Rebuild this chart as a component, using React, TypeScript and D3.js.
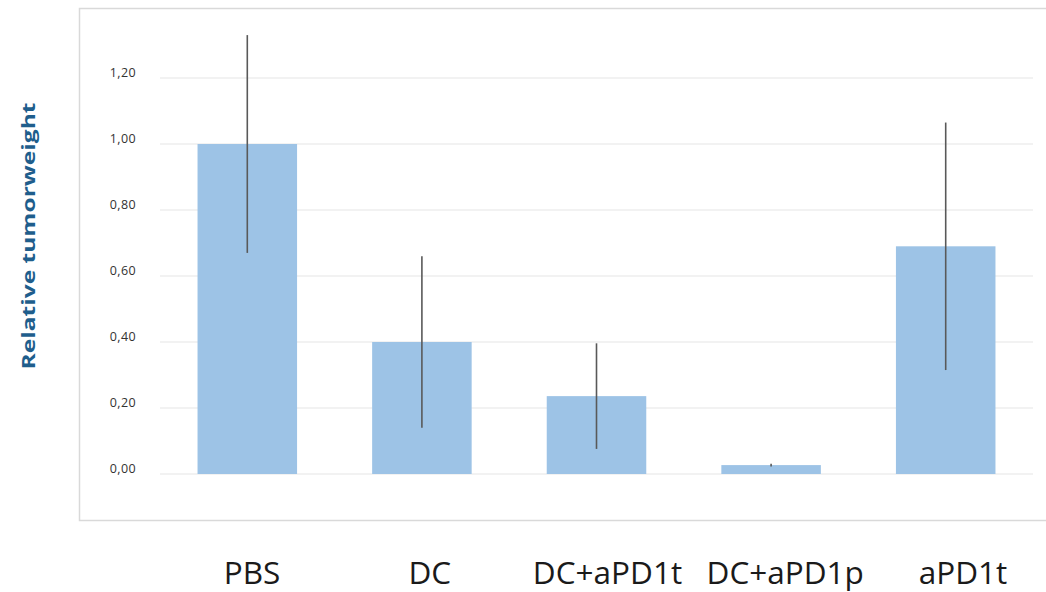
import React from "react";
import * as d3 from "d3";

const categories = ["PBS", "DC", "DC+aPD1t", "DC+aPD1p", "aPD1t"];
const values = [1.0, 0.4, 0.236, 0.027, 0.69];
const errors = [0.33, 0.26, 0.16, 0.004, 0.375];
const yTicks = [0, 0.2, 0.4, 0.6, 0.8, 1.0, 1.2];
const yTitle = "Relative tumorweight";

const W = 1046;
const H = 592;

export default function App() {
  const y = d3.scaleLinear().domain([0, 1]).range([474, 144]);
  const x = d3.scaleBand<string>().domain(categories).range([160, 1033]).paddingInner(0.43).paddingOuter(0.215);
  const xl = d3.scalePoint<string>().domain(categories).range([252, 963]);
  const fmt = (v: number) => d3.format(".2f")(v).replace(".", ",");
  return (
    <svg width={W} height={H} style={{ position: "absolute", left: 0, top: 0, background: "#fff" }}>
      <rect x={79.5} y={8.5} width={980} height={512} fill="#fff" stroke="#d9d9d9" strokeWidth={1.5} />
      {yTicks.map((t) => (
        <g key={t}>
          <line x1={160} x2={1033} y1={y(t)} y2={y(t)} stroke="#eeeeee" strokeWidth={1.5} />
          <text x={136} y={y(t)} dy="-0.1em" textAnchor="end" fontFamily="'Open Sans', sans-serif" fontSize={12.5} letterSpacing={0.4} fill="#333">
            {fmt(t)}
          </text>
        </g>
      ))}
      {categories.map((c, i) => (
        <g key={c}>
          <rect x={x(c)} y={y(values[i])} width={x.bandwidth()} height={y(0) - y(values[i])} fill="#9dc3e6" />
          <line x1={x(c)! + x.bandwidth() / 2} x2={x(c)! + x.bandwidth() / 2} y1={y(values[i] + errors[i])} y2={y(values[i] - errors[i])} stroke="#595959" strokeWidth={1.6} />
          <text x={xl(c)} y={584} textAnchor="middle" fontFamily="'Open Sans', sans-serif" fontSize={31.5} fill="#1a1a1a">
            {c}
          </text>
        </g>
      ))}
      <text transform={`translate(35,236) rotate(-90)`} textAnchor="middle" fontFamily="'Open Sans', 'DejaVu Sans', sans-serif" fontWeight="bold" fontSize={17} fill="#1f5e8c" textLength={267} lengthAdjust="spacingAndGlyphs">
        {yTitle}
      </text>
    </svg>
  );
}
